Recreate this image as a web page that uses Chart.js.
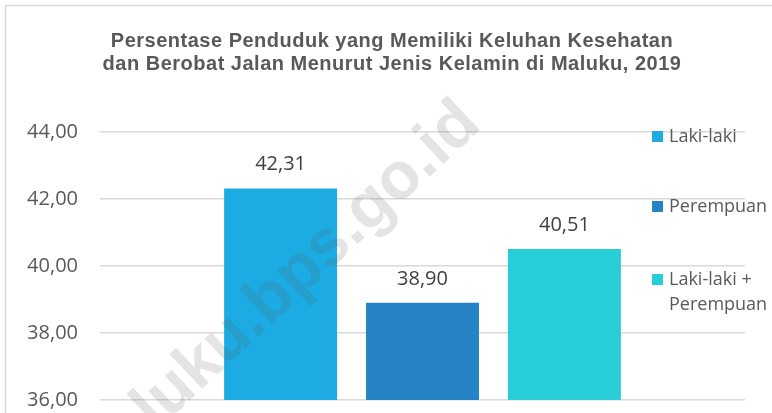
<!DOCTYPE html>
<html>
<head>
<meta charset="utf-8">
<script src="https://cdn.jsdelivr.net/npm/chart.js@4.4.1/dist/chart.umd.min.js"></script>
<style>
  html, body { margin: 0; padding: 0; background: #ffffff; }
  #wrap { position: relative; width: 772px; height: 413px; }
</style>
</head>
<body>
<div id="wrap"><canvas id="c" width="772" height="413"></canvas></div>
<script>
// ---- data ----
const categories = ['2019'];
const seriesLabels = ['Laki-laki', 'Perempuan', 'Laki-laki + Perempuan'];
const lakiLaki = [42.31];
const perempuan = [38.90];
const lakiPerempuan = [40.51];
const yMin = 36;
const yMax = 44;
const yStep = 2;
const titleLines = [
  'Persentase Penduduk yang Memiliki Keluhan Kesehatan',
  'dan Berobat Jalan Menurut Jenis Kelamin di Maluku, 2019'
];
const watermarkText = 'maluku.bps.go.id';

const colors = ['#1CACE3', '#2683C6', '#27CED7'];
const fmt = v => v.toFixed(2).replace('.', ',');

const framePlugin = {
  id: 'frame',
  beforeDraw(chart) {
    const ctx = chart.ctx;
    ctx.save();
    ctx.fillStyle = '#ffffff';
    ctx.fillRect(0, 0, chart.width, chart.height);
    ctx.strokeStyle = '#d9d9d9';
    ctx.lineWidth = 1.5;
    ctx.beginPath();
    ctx.moveTo(5.5, chart.height);
    ctx.lineTo(5.5, 5.5);
    ctx.lineTo(chart.width, 5.5);
    ctx.stroke();
    // title
    ctx.fillStyle = '#595959';
    ctx.font = 'bold 20px "Liberation Sans", Arial, sans-serif';
    ctx.textAlign = 'center';
    ctx.textBaseline = 'alphabetic';
    try { ctx.letterSpacing = '0.5px'; } catch (e) {}
    ctx.fillText(titleLines[0], 392, 47);
    ctx.fillText(titleLines[1], 392, 70);
    try { ctx.letterSpacing = '0px'; } catch (e) {}
    ctx.restore();
  }
};

const labelPlugin = {
  id: 'valueLabels',
  afterDatasetsDraw(chart) {
    const ctx = chart.ctx;
    ctx.save();
    ctx.fillStyle = '#404040';
    ctx.font = '20px "Open Sans", sans-serif';
    ctx.textAlign = 'center';
    ctx.textBaseline = 'middle';
    chart.data.datasets.forEach((ds, i) => {
      const meta = chart.getDatasetMeta(i);
      meta.data.forEach((bar, j) => {
        ctx.fillText(fmt(ds.data[j]), bar.x, bar.y - 24);
      });
    });
    ctx.restore();
  }
};

const legendPlugin = {
  id: 'customLegend',
  afterDraw(chart) {
    const ctx = chart.ctx;
    ctx.save();
    ctx.font = '18px "Open Sans", sans-serif';
    ctx.textBaseline = 'middle';
    ctx.textAlign = 'left';
    const rows = [
      { lines: ['Laki-laki'], y: 137 },
      { lines: ['Perempuan'], y: 207 },
      { lines: ['Laki-laki +', 'Perempuan'], y: 280 }
    ];
    chart.data.datasets.forEach((ds, i) => {
      const r = rows[i];
      ctx.fillStyle = ds.backgroundColor;
      ctx.fillRect(652, r.y - 6, 11, 11);
      ctx.fillStyle = '#595959';
      r.lines.forEach((t, k) => ctx.fillText(t, 669, r.y + k * 25));
    });
    ctx.restore();
  }
};

const watermarkPlugin = {
  id: 'watermark',
  afterDraw(chart) {
    const ctx = chart.ctx;
    ctx.save();
    ctx.translate(86, 497);
    ctx.rotate(-43 * Math.PI / 180);
    ctx.font = 'bold 66px "Liberation Sans", Arial, sans-serif';
    ctx.fillStyle = 'rgba(90,90,90,0.16)';
    ctx.textAlign = 'left';
    ctx.textBaseline = 'alphabetic';
    ctx.fillText(watermarkText, 0, 0);
    ctx.restore();
  }
};

const datasets = [lakiLaki, perempuan, lakiPerempuan].map((d, i) => ({
  label: seriesLabels[i],
  data: d,
  backgroundColor: colors[i],
  borderWidth: 0,
  categoryPercentage: 0.66,
  barPercentage: 0.796
}));

new Chart(document.getElementById('c'), {
  type: 'bar',
  data: { labels: categories, datasets },
  options: {
    responsive: false,
    animation: false,
    devicePixelRatio: 1,
    layout: { padding: { top: 132, right: 27, bottom: 13, left: 0 } },
    plugins: {
      legend: { display: false },
      title: { display: false },
      tooltip: { enabled: false }
    },
    scales: {
      x: { display: false },
      y: {
        min: yMin,
        max: yMax,
        border: { display: false },
        grid: { color: '#d9d9d9', lineWidth: 1.5, drawTicks: false },
        ticks: {
          stepSize: yStep,
          padding: 22,
          color: '#595959',
          font: { family: '"Open Sans", sans-serif', size: 20 },
          callback: v => fmt(v)
        },
        afterFit(scale) {
          scale.width = 100;
          scale.paddingTop = 0;
          scale.paddingBottom = 0;
        }
      }
    }
  },
  plugins: [framePlugin, labelPlugin, legendPlugin, watermarkPlugin]
});
</script>
</body>
</html>
